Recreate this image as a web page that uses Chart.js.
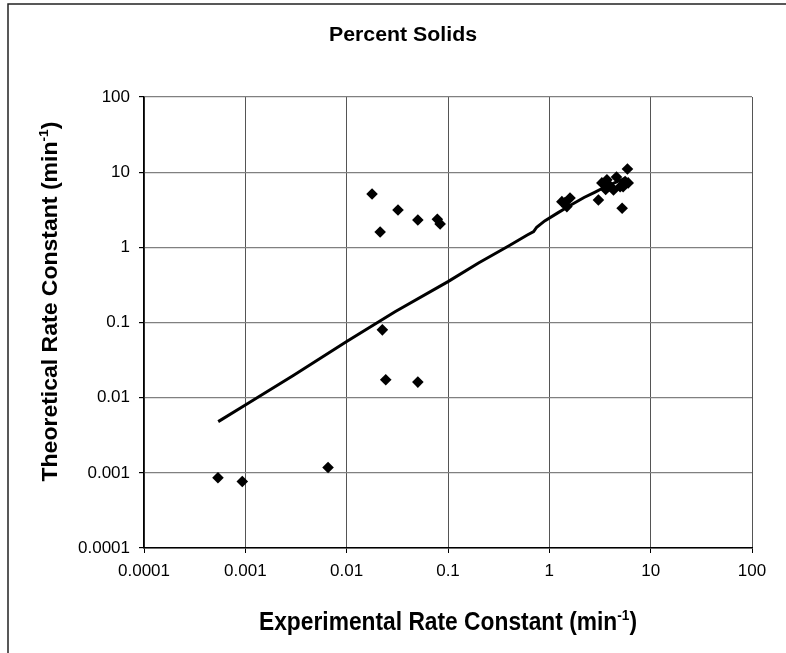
<!DOCTYPE html>
<html>
<head>
<meta charset="utf-8">
<script src="https://cdn.jsdelivr.net/npm/chart.js@4/dist/chart.umd.min.js"></script>
<style>
html,body{margin:0;padding:0;background:#fff;}
canvas{display:block;}
</style>
</head>
<body>
<canvas id="c" width="786" height="653"></canvas>
<script>
// ---- data ----
const chartTitle = "Percent Solids";
const xTitleMain = "Experimental Rate Constant (min";
const yTitleMain = "Theoretical Rate Constant (min";
const supText = "-1";
const closeText = ")";

const tickVals = [0.0001, 0.001, 0.01, 0.1, 1, 10, 100];

const expX = [0.000537, 0.000933, 0.00655,
  0.0178, 0.0214, 0.0321, 0.0504, 0.0785, 0.0836,
  0.0225, 0.0243, 0.0504,
  1.33, 1.60, 1.49, 1.42,
  3.05, 5.23, 5.9, 3.3, 3.7, 4.0, 4.6, 4.3, 5.0, 5.35, 5.6, 6.0, 3.6];
const expY = [0.00086, 0.000766, 0.00118,
  5.13, 1.60, 3.14, 2.31, 2.36, 2.05,
  0.0798, 0.0173, 0.0161,
  4.05, 4.54, 3.48, 3.9,
  4.27, 3.31, 11.0, 7.2, 7.9, 6.5, 8.6, 5.8, 6.4, 6.4, 7.5, 7.2, 5.9];

const fitX = [0.00054, 0.001, 0.003, 0.01, 0.03, 0.1, 0.2, 0.4, 0.6, 0.7, 0.75, 0.9, 1.2, 1.6, 2.2, 2.8, 3.5, 4.5, 5.5];
const fitY = [0.0048, 0.0080, 0.0199, 0.0557, 0.139, 0.35, 0.62, 1.05, 1.45, 1.62, 1.85, 2.25, 2.85, 3.6, 4.6, 5.4, 6.3, 7.3, 8.2];

// ---- fonts ----
function hasFont(name){
  const c = document.createElement('canvas').getContext('2d');
  c.font = '20px monospace';
  const a = c.measureText('0.0001 abcxyz').width;
  c.font = "20px '" + name + "', monospace";
  const b = c.measureText('0.0001 abcxyz').width;
  return Math.abs(a - b) > 0.5;
}
const narrow = hasFont('Liberation Sans Narrow');
const tickFont = narrow
  ? {family: "'Liberation Sans Narrow', 'Arial Narrow', sans-serif", size: 19}
  : {family: "'Liberation Sans', Arial, sans-serif", size: 17};

function fmt(v){ return String(v); }

function drawParts(ctx, parts, cx, baseY, targetW, rot){
  ctx.save();
  ctx.translate(cx, baseY);
  ctx.rotate(rot);
  let w = 0;
  parts.forEach(p => { ctx.font = p.font; p.w = ctx.measureText(p.text).width; w += p.w; });
  const sx = targetW ? targetW / w : 1;
  ctx.scale(sx, 1);
  let x = -w / 2;
  ctx.textBaseline = 'alphabetic';
  ctx.textAlign = 'left';
  ctx.fillStyle = '#000';
  parts.forEach(p => { ctx.font = p.font; ctx.fillText(p.text, x, -p.rise); x += p.w; });
  ctx.restore();
}

const F = "'Liberation Sans', Arial, sans-serif";
const decor = {
  id: 'decor',
  afterDraw(chart){
    const ctx = chart.ctx;
    ctx.save();
    ctx.strokeStyle = '#222';
    ctx.lineWidth = 1.5;
    ctx.beginPath();
    ctx.moveTo(8, 653); ctx.lineTo(8, 4); ctx.lineTo(786, 4);
    ctx.stroke();
    ctx.restore();
    drawParts(ctx, [{text: chartTitle, font: "bold 19.5px " + F, rise: 0}], 403, 41, 148, 0);
    drawParts(ctx, [
      {text: xTitleMain, font: "bold 25px " + F, rise: 0},
      {text: supText, font: "bold 15px " + F, rise: 10},
      {text: closeText, font: "bold 25px " + F, rise: 0}
    ], 448, 630, 378, 0);
    drawParts(ctx, [
      {text: yTitleMain, font: "bold 21.5px " + F, rise: 0},
      {text: supText, font: "bold 13px " + F, rise: 9},
      {text: closeText, font: "bold 21.5px " + F, rise: 0}
    ], 57, 301.5, 360, -Math.PI / 2);
  }
};

const ctx = document.getElementById('c').getContext('2d');
new Chart(ctx, {
  type: 'scatter',
  data: {
    datasets: [
      {
        label: 'Experimental',
        data: expX.map((x, i) => ({x: x, y: expY[i]})),
        pointStyle: 'rectRot',
        pointRadius: 5.8,
        backgroundColor: '#000',
        borderColor: '#000',
        borderWidth: 0,
        showLine: false,
        order: 0
      },
      {
        label: 'Theoretical',
        data: fitX.map((x, i) => ({x: x, y: fitY[i]})),
        showLine: true,
        borderColor: '#000',
        borderWidth: 3,
        pointRadius: 0,
        fill: false,
        tension: 0,
        order: 1
      }
    ]
  },
  options: {
    responsive: false,
    animation: false,
    devicePixelRatio: 1,
    layout: {padding: {left: 0, right: 34, top: 97, bottom: 0}},
    plugins: {legend: {display: false}, tooltip: {enabled: false}, title: {display: false}},
    scales: {
      x: {
        type: 'logarithmic',
        min: 0.0001, max: 100,
        afterBuildTicks: s => { s.ticks = tickVals.map(v => ({value: v})); },
        afterFit: s => { s.height = 105; },
        ticks: {callback: v => fmt(v), font: tickFont, color: '#000', padding: 8, maxRotation: 0, autoSkip: false},
        grid: {color: '#555', lineWidth: 1, tickColor: '#000', tickLength: 5},
        border: {color: '#000', width: 1.5}
      },
      y: {
        type: 'logarithmic',
        min: 0.0001, max: 100,
        afterBuildTicks: s => { s.ticks = tickVals.map(v => ({value: v})); },
        afterFit: s => { s.width = 144; },
        ticks: {callback: v => fmt(v), font: tickFont, color: '#000', padding: 9, autoSkip: false},
        grid: {color: '#808080', lineWidth: 1.2, tickColor: '#000', tickLength: 5},
        border: {color: '#000', width: 1.5}
      }
    }
  },
  plugins: [decor]
});
</script>
</body>
</html>
